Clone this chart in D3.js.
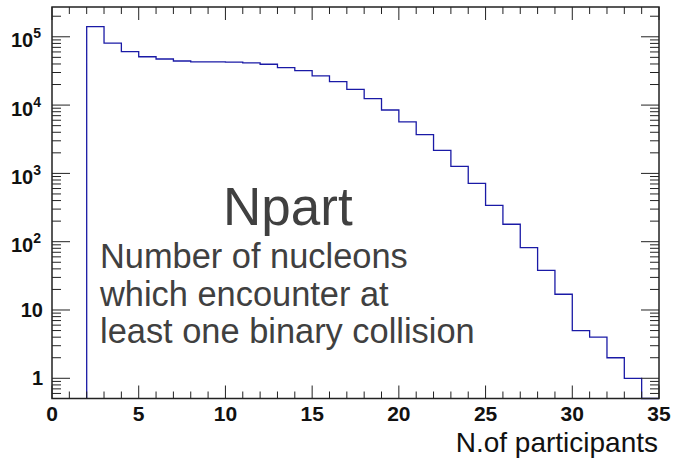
<!DOCTYPE html>
<html>
<head>
<meta charset="utf-8">
<script src="https://cdn.jsdelivr.net/npm/d3@7"></script>
<style>
  body { margin: 0; background: #fff; }
  svg { display: block; font-family: "Liberation Sans", Arial, sans-serif; }
</style>
</head>
<body>
<div id="chart"></div>
<script>
// Npart distribution, one-unit bins starting at 2
const binLow = [2, 3, 4, 5, 6, 7, 8, 9, 10, 11, 12, 13, 14, 15, 16, 17, 18,
                19, 20, 21, 22, 23, 24, 25, 26, 27, 28, 29, 30, 31, 32, 33, 34];
const counts = [141000, 81000, 60500, 51000, 47300, 44200, 42800, 42800, 42700,
                41400, 39600, 35300, 31900, 26700, 22000, 17000, 12400, 8480,
                5660, 3690, 2180, 1270, 716, 341, 180, 82, 38, 17, 5, 4, 2, 1, 0];
const xTicks = [0, 5, 10, 15, 20, 25, 30, 35];
const yDecades = [0, 1, 2, 3, 4, 5];
const noteLines = ['Number of nucleons', 'which encounter at', 'least one binary collision'];

const W = 673, H = 459;
const frame = { left: 52, right: 659, top: 7, bottom: 398.5 };
const yMin = 0.506, yMax = 2.73e5;

const svg = d3.select('#chart').append('svg')
    .attr('width', W)
    .attr('height', H);

const x = d3.scaleLinear().domain([0, 35]).range([frame.left, frame.right]);
const y = d3.scaleLog().domain([yMin, yMax]).range([frame.bottom, frame.top]);

// histogram outline
const pts = [{ x: binLow[0], v: yMin }];
binLow.forEach((lo, i) => pts.push({ x: lo, v: counts[i] > 0 ? counts[i] : yMin }));
pts.push({ x: binLow[binLow.length - 1] + 1, v: pts[pts.length - 1].v });

const line = d3.line()
    .x(d => x(d.x))
    .y(d => y(d.v))
    .curve(d3.curveStepAfter);

svg.append('path')
    .datum(pts)
    .attr('d', line)
    .attr('fill', 'none')
    .attr('stroke', '#1a1aa6')
    .attr('stroke-width', 1.3);

// ticks on all four sides
const tickG = svg.append('g').attr('stroke', '#222').attr('stroke-width', 1);
d3.range(0, 36).forEach(v => {
    const len = v % 5 === 0 ? 13 : 7;
    const px = x(v);
    tickG.append('line').attr('x1', px).attr('x2', px)
        .attr('y1', frame.bottom).attr('y2', frame.bottom - len);
    tickG.append('line').attr('x1', px).attr('x2', px)
        .attr('y1', frame.top).attr('y2', frame.top + len);
});

const yMinor = [];
d3.range(-1, 6).forEach(d => {
    d3.range(2, 10).forEach(m => {
        const v = m * Math.pow(10, d);
        if (v >= yMin && v <= yMax) yMinor.push(v);
    });
});
yMinor.forEach(v => {
    const py = y(v);
    tickG.append('line').attr('x1', frame.left).attr('x2', frame.left + 9)
        .attr('y1', py).attr('y2', py);
    tickG.append('line').attr('x1', frame.right).attr('x2', frame.right - 9)
        .attr('y1', py).attr('y2', py);
});
yDecades.forEach(d => {
    const py = y(Math.pow(10, d));
    tickG.append('line').attr('x1', frame.left).attr('x2', frame.left + 18)
        .attr('y1', py).attr('y2', py);
    tickG.append('line').attr('x1', frame.right).attr('x2', frame.right - 18)
        .attr('y1', py).attr('y2', py);
});

// frame
svg.append('rect')
    .attr('x', frame.left)
    .attr('y', frame.top)
    .attr('width', frame.right - frame.left)
    .attr('height', frame.bottom - frame.top)
    .attr('fill', 'none')
    .attr('stroke', '#222')
    .attr('stroke-width', 1.5);

// x labels
svg.append('g').selectAll('text')
    .data(xTicks)
    .join('text')
    .attr('x', d => x(d))
    .attr('y', 421)
    .attr('text-anchor', 'middle')
    .attr('font-size', 21)
    .attr('font-weight', 'bold')
    .attr('fill', '#111')
    .text(d => d);

// y labels: 1, 10, then 10^n
const yLab = svg.append('g')
    .attr('font-weight', 'bold')
    .attr('fill', '#111')
    .attr('text-anchor', 'end');
yDecades.forEach(d => {
    const py = y(Math.pow(10, d));
    if (d < 2) {
        yLab.append('text')
            .attr('x', 43)
            .attr('y', py + 7)
            .attr('font-size', 20)
            .text(d === 0 ? '1' : '10');
    } else {
        const t = yLab.append('text')
            .attr('x', 41)
            .attr('y', py + 10.5)
            .attr('font-size', 20);
        t.append('tspan').text('10');
        t.append('tspan').attr('dy', -9).attr('font-size', 14).text(d);
    }
});

// axis title
svg.append('text')
    .attr('x', 658)
    .attr('y', 452)
    .attr('text-anchor', 'end')
    .attr('font-size', 28)
    .attr('fill', '#111')
    .text('N.of participants');

// annotation
svg.append('text')
    .attr('x', 223)
    .attr('y', 225)
    .attr('font-size', 53)
    .attr('fill', '#404040')
    .text('Npart');

svg.append('g').selectAll('text')
    .data(noteLines)
    .join('text')
    .attr('x', 100)
    .attr('y', (d, i) => 268 + i * 37.5)
    .attr('font-size', 34.4)
    .attr('fill', '#404040')
    .text(d => d);
</script>
</body>
</html>
